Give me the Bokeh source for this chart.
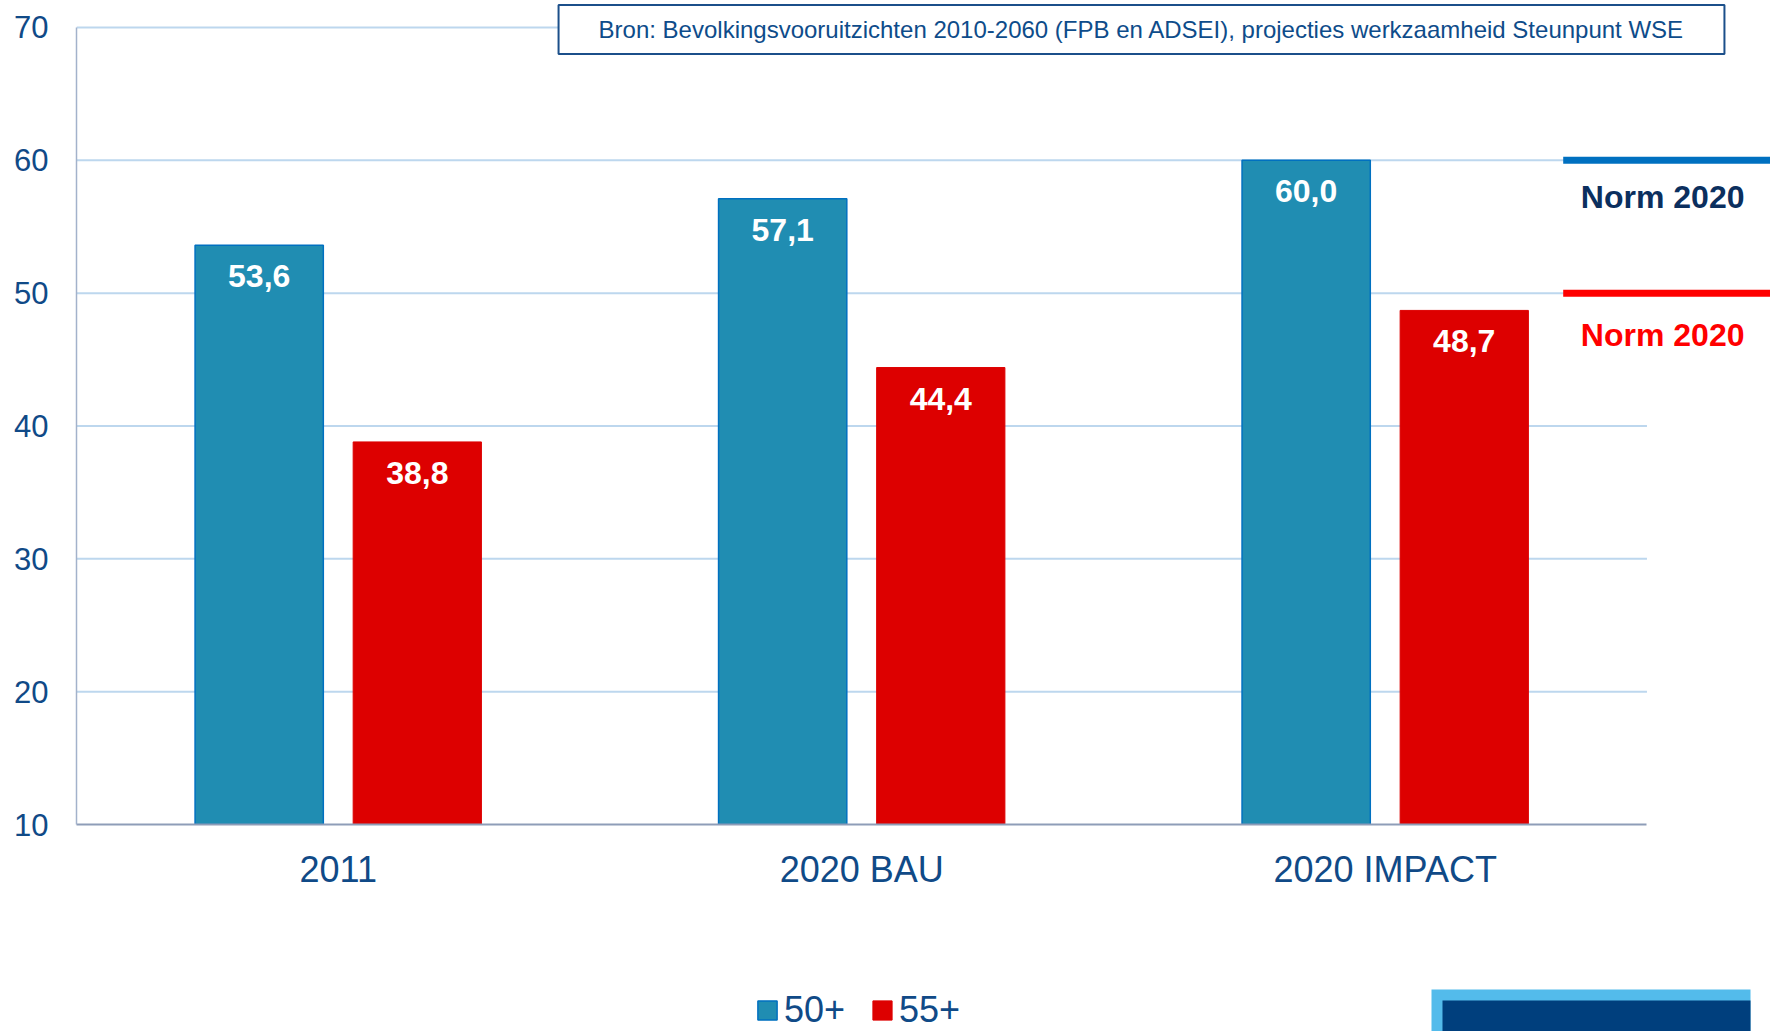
import numpy as np
from bokeh.plotting import figure
from bokeh.layouts import column
from bokeh.models import (Range1d, FixedTicker, Label, ColumnDataSource,
                          BoxAnnotation, Legend, LegendItem)
from bokeh.embed import file_html
from bokeh.resources import INLINE
from bokeh.core.properties import value

# ---------------- data ----------------
categories = ["2011", "2020 BAU", "2020 IMPACT"]
series_names = ["50+", "55+"]
values_50 = [53.6, 57.1, 60.0]
values_55 = [38.8, 44.4, 48.7]
norm_values = [60, 50]
norm_labels = ["Norm 2020", "Norm 2020"]
y_ticks = [10, 20, 30, 40, 50, 60, 70]
source_text = "Bron: Bevolkingsvooruitzichten 2010-2060 (FPB en ADSEI), projecties werkzaamheid Steunpunt WSE"

# ---------------- style ----------------
FONT = "Liberation Sans"
NAVY = "#104A87"
BLUE_FILL = "#208DB2"
BLUE_LINE = "#0070C0"
RED_FILL = "#DD0000"
GRID = "#BDD7EE"


def fmt(v):
    return f"{v:.1f}".replace(".", ",")


W = 1770
H_MAIN, H_LEG = 975, 56
n = len(categories)
idx = np.arange(n) + 0.5
off = 0.151
bw = 0.245

bar_styles = [dict(fill_color=BLUE_FILL, line_color=BLUE_LINE, line_width=1.5),
              dict(fill_color=RED_FILL, line_color=RED_FILL, line_width=1)]
series_values = [values_50, values_55]
series_x = [idx - off, idx + off]

p = figure(width=W, height=H_MAIN, output_backend="svg", toolbar_location=None,
           x_range=Range1d(0, 3.236), y_range=Range1d(y_ticks[0], 72.03),
           min_border_left=76, min_border_right=0, min_border_top=0,
           min_border_bottom=H_MAIN - 824)
p.outline_line_color = None
p.xgrid.visible = False
p.ygrid.visible = False
p.background_fill_color = "white"

# gridlines (limited to the category area)
grid_src = ColumnDataSource(dict(y=y_ticks[1:], x0=[0] * (len(y_ticks) - 1),
                                 x1=[n] * (len(y_ticks) - 1)))
p.segment(x0="x0", y0="y", x1="x1", y1="y", source=grid_src,
          line_color=GRID, line_width=2)

# bars
for xs, vals, st in zip(series_x, series_values, bar_styles):
    p.vbar(x=xs, top=vals, bottom=y_ticks[0], width=bw, **st)

# value labels inside bars
for xs, vals in zip(series_x, series_values):
    p.text(x=xs, y=vals, text=[fmt(v) for v in vals], text_align="center",
           text_baseline="middle", y_offset=31, text_color="white",
           text_font=value(FONT), text_font_style="bold", text_font_size="32px")

# norm lines and labels
p.segment(x0=[n - 0.16] * 2, x1=[n + 0.4] * 2, y0=norm_values, y1=norm_values,
          line_color=[BLUE_LINE, "#FF0000"], line_width=7)
p.text(x=[n + 0.03] * 2, y=norm_values, text=norm_labels, text_align="center",
       text_baseline="middle", y_offset=[37, 42],
       text_color=["#0B2F5E", "#FF0000"], text_font=value(FONT),
       text_font_style="bold", text_font_size="32px")

# axes
p.xaxis.ticker = FixedTicker(ticks=list(idx))
p.xaxis.major_label_overrides = {float(x): c for x, c in zip(idx, categories)}
p.xaxis.bounds = (0, n)
p.xaxis.axis_line_color = "#8E9DB8"
p.xaxis.axis_line_width = 2
p.xaxis.major_tick_line_color = None
p.xaxis.minor_tick_line_color = None
p.xaxis.major_tick_out = 0
p.xaxis.major_tick_in = 0
p.xaxis.major_label_standoff = 24
p.xaxis.major_label_text_font = FONT
p.xaxis.major_label_text_font_size = "36px"
p.xaxis.major_label_text_color = NAVY

p.yaxis.ticker = FixedTicker(ticks=y_ticks)
p.yaxis.bounds = (y_ticks[0], y_ticks[-1])
p.yaxis.axis_line_color = "#A3B2CB"
p.yaxis.axis_line_width = 1.5
p.yaxis.major_tick_line_color = None
p.yaxis.minor_tick_line_color = None
p.yaxis.major_tick_out = 0
p.yaxis.major_tick_in = 0
p.yaxis.major_label_standoff = 28
p.yaxis.major_label_text_font = FONT
p.yaxis.major_label_text_font_size = "31px"
p.yaxis.major_label_text_color = NAVY

# source box
src = Label(x=1065, y=795, x_units="screen", y_units="screen", text=source_text,
            text_align="center", text_baseline="middle", text_font=FONT,
            text_font_size="24px", text_color="#0E4C8A",
            background_fill_color="white", border_line_color="#1B4F8A",
            border_line_width=2,
            padding=dict(left=40, right=40, top=11, bottom=11))
p.add_layout(src)

# ---------------- bottom strip: legend + slide band ----------------
p2 = figure(width=W, height=H_LEG, output_backend="svg", toolbar_location=None,
            x_range=Range1d(0, 1), y_range=Range1d(0, 1),
            x_axis_location=None, y_axis_location=None,
            min_border=0, min_border_left=0, min_border_right=0,
            min_border_top=0, min_border_bottom=0)
p2.outline_line_color = None
p2.xgrid.visible = False
p2.ygrid.visible = False

items = []
for xs, vals, st, name in zip(series_x, series_values, bar_styles, series_names):
    r = p2.vbar(x=xs, top=vals, bottom=y_ticks[0], width=bw, visible=False, **st)
    items.append(LegendItem(label=name, renderers=[r]))

leg = Legend(items=items, location=(679, 0), orientation="horizontal",
             label_text_font=FONT, label_text_font_size="36px",
             label_text_color=NAVY, glyph_width=24, glyph_height=24,
             label_standoff=5, spacing=25, padding=0, margin=0,
             border_line_color=None, background_fill_alpha=0)
p2.add_layout(leg)

p2.add_layout(BoxAnnotation(left=1355, right=1674, top=42, bottom=0,
                            left_units="screen", right_units="screen",
                            top_units="screen", bottom_units="screen",
                            fill_color="#53BBEB", fill_alpha=1, line_color=None))
p2.add_layout(BoxAnnotation(left=1366, right=1674, top=31, bottom=0,
                            left_units="screen", right_units="screen",
                            top_units="screen", bottom_units="screen",
                            fill_color="#003F7D", fill_alpha=1, line_color=None))

layout = column(p, p2, spacing=0)
open("out.html", "w").write(file_html(layout, INLINE))
